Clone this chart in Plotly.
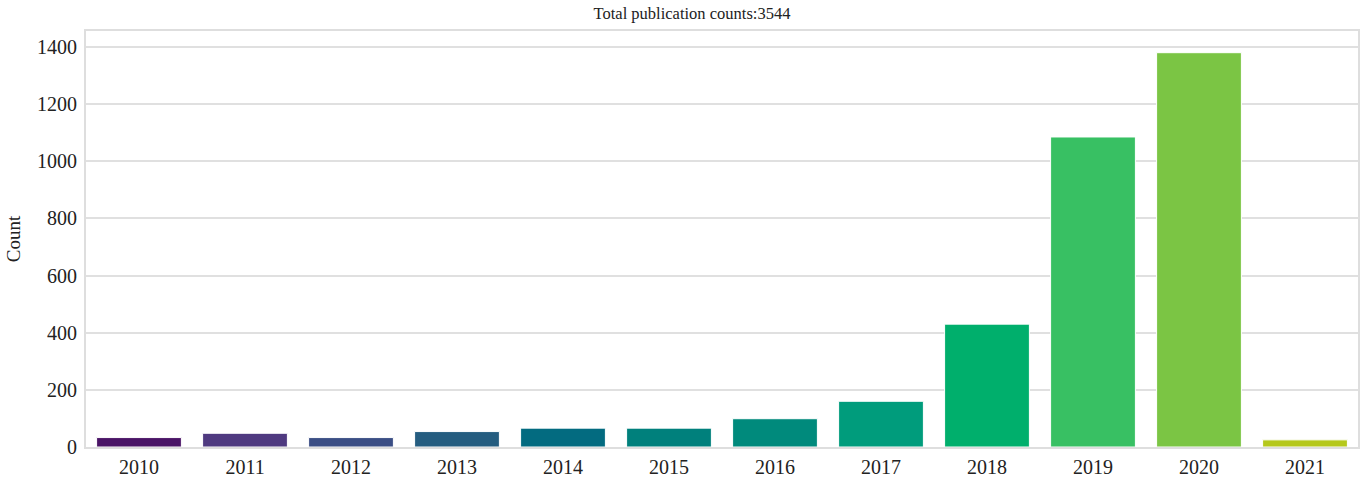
import plotly.graph_objects as go

years = ["2010", "2011", "2012", "2013", "2014", "2015", "2016", "2017", "2018", "2019", "2020", "2021"]
counts = [33, 48, 33, 54, 66, 66, 99, 160, 430, 1085, 1380, 25]
title_text = "Total publication counts:3544"
y_ticks = [0, 200, 400, 600, 800, 1000, 1200, 1400]
bar_colors = ["#4a1466", "#4f3a80", "#3b4e85", "#255d80", "#036b80", "#00807c",
              "#008a7c", "#009c7c", "#00af6c", "#38c063", "#7bc544", "#b5c81c"]

n = len(years)

fig = go.Figure(go.Bar(
    x=years, y=counts,
    marker=dict(color=bar_colors, line=dict(color="white", width=1)),
    width=0.8,
))

font = "Liberation Serif, Times New Roman, serif"
fig.update_layout(
    width=1364, height=480,
    margin=dict(l=86, r=6, t=31, b=33, autoexpand=False),
    paper_bgcolor="white", plot_bgcolor="white",
    font=dict(family=font, size=20, color="#222"),
    title=dict(text=title_text, x=692 / 1364, xanchor="center", y=1 - 13 / 480, yanchor="middle",
               yref="container", automargin=False,
               font=dict(family=font, size=16.5, color="#222")),
    showlegend=False,
)
fig.update_xaxes(
    type="category", range=[-0.5, n - 0.5], automargin=False,
    showgrid=False, showline=True, linecolor="#dedede", linewidth=2, mirror=True,
    ticks="", tickfont=dict(size=20), ticklabelstandoff=1,
)
fig.update_yaxes(
    range=[0, max(counts) * 1.055], automargin=False,
    tickvals=y_ticks,
    showgrid=True, gridcolor="#e0e0e0", gridwidth=2,
    showline=True, linecolor="#dedede", linewidth=2, mirror=True,
    zeroline=False, ticks="", tickfont=dict(size=20), ticklabelstandoff=3,
    title=dict(text="Count", font=dict(size=19), standoff=11),
)
fig.write_html("out.html", config={"displayModeBar": False},
               post_script="document.body.style.margin='0px';")
